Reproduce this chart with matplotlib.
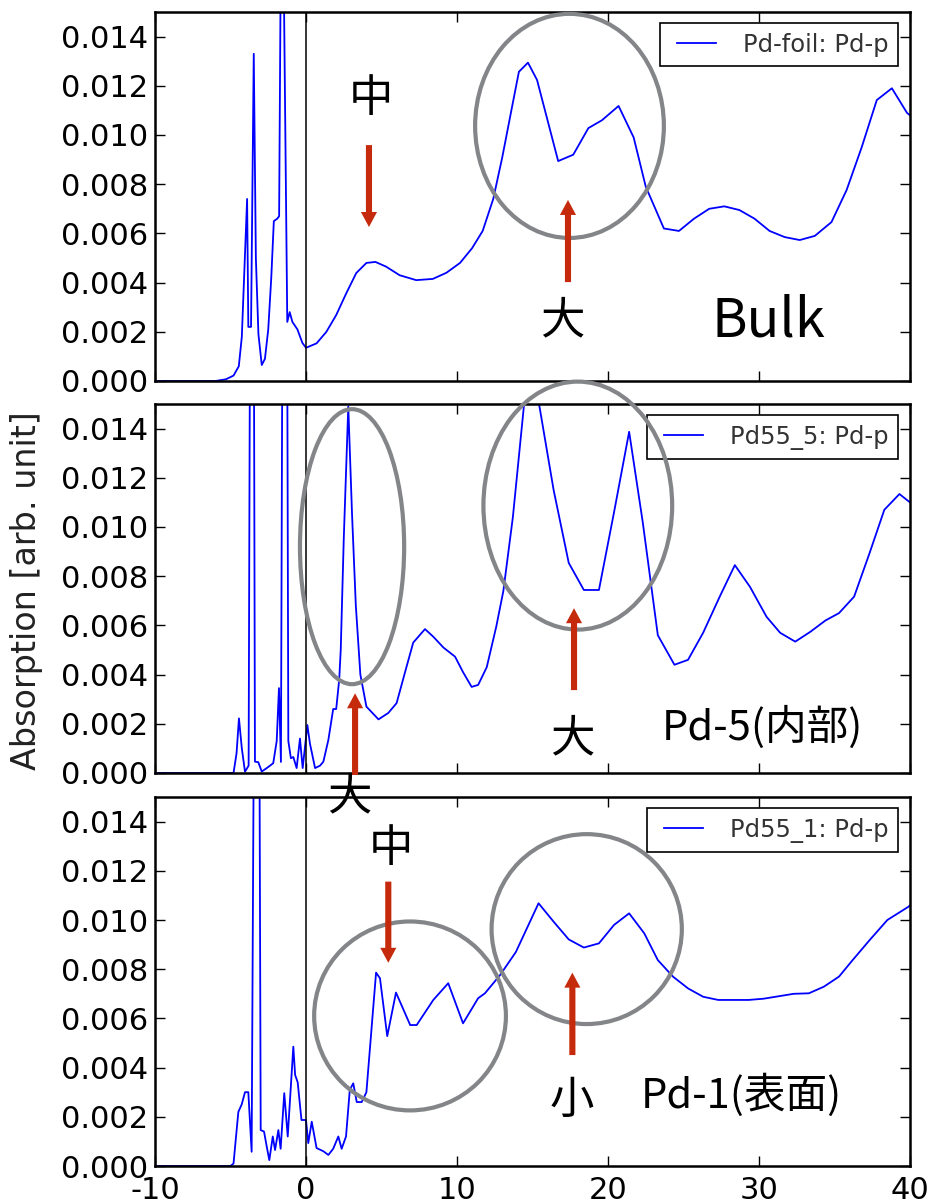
import matplotlib
matplotlib.use('Agg')
import matplotlib.pyplot as plt
from matplotlib.patches import Ellipse, FancyArrowPatch
from matplotlib.ticker import FormatStrFormatter

plt.rcParams['font.family'] = ['DejaVu Sans', 'Noto Sans CJK JP']
plt.rcParams['axes.unicode_minus'] = False

# Pd-p partial absorption vs energy (eV, relative to edge)
foil_e = [-10, -6.0, -5.3, -4.8, -4.45, -4.25, -4.05, -3.9, -3.82, -3.64, -3.46, -3.32,
          -3.15, -2.93, -2.72, -2.5, -2.3, -2.13, -1.9, -1.78, -1.62, -1.5, -1.24, -1.08,
          -0.9, -0.57, -0.24, 0.0, 0.7, 1.35, 2.0, 2.67, 3.33, 4.0, 4.6, 5.3, 6.2, 7.3,
          8.4, 9.3, 10.2, 11.0, 11.7, 12.4, 13.0, 13.6, 14.1, 14.7, 15.3, 16.7, 17.7,
          18.7, 19.6, 20.7, 21.7, 22.5, 23.7, 24.7, 25.7, 26.7, 27.7, 28.7, 29.7, 30.7,
          31.7, 32.7, 33.7, 34.8, 35.8, 36.8, 37.8, 38.8, 39.8, 40.0]
foil_mu = [0, 0, 0.00007, 0.00022, 0.0006, 0.0018, 0.0050, 0.0074, 0.0022, 0.0022, 0.0133,
           0.0050, 0.0019, 0.00065, 0.0009, 0.0021, 0.0042, 0.0065, 0.0066, 0.0067, 0.022,
           0.018, 0.0024, 0.0028, 0.0024, 0.0021, 0.00155, 0.00135, 0.00153, 0.0020,
           0.00268, 0.00357, 0.00439, 0.0048, 0.00484, 0.00465, 0.0043, 0.0041, 0.00415,
           0.0044, 0.0048, 0.0054, 0.0061, 0.0074, 0.0091, 0.0110, 0.01257, 0.01294,
           0.01224, 0.00894, 0.0092, 0.01028, 0.0106, 0.01118, 0.0099, 0.0079, 0.0062,
           0.0061, 0.0066, 0.0070, 0.0071, 0.00695, 0.0066, 0.0061, 0.00585, 0.00573,
           0.0059, 0.00646, 0.00776, 0.0095, 0.01142, 0.0119, 0.0109, 0.0108]

pd5_e = [-10, -4.8, -4.6, -4.44, -4.25, -4.04, -3.8, -3.65, -3.5, -3.38, -3.16, -2.93,
         -2.6, -2.38, -2.17, -1.94, -1.79, -1.66, -1.5, -1.3, -1.17, -1.0, -0.84, -0.62,
         -0.4, -0.22, 0.09, 0.26, 0.6, 0.93, 1.15, 1.48, 1.8, 2.0, 2.2, 2.3, 2.5, 2.8,
         3.05, 3.3, 3.6, 4.0, 4.8, 5.45, 6.0, 6.56, 7.1, 7.88, 8.43, 9.1, 9.87, 10.4,
         10.97, 11.4, 11.97, 12.6, 13.07, 13.7, 14.8, 15.5, 16.4, 17.4, 18.4, 19.4, 20.4,
         21.4, 22.3, 23.3, 24.4, 25.3, 26.3, 27.4, 28.4, 29.4, 30.5, 31.4, 32.4, 33.4,
         34.4, 35.3, 36.3, 37.3, 38.3, 39.3, 40.0]
pd5_mu = [0, 0, 0.0008, 0.00222, 0.0010, 0.00005, 0.0003, 0.030, 0.030, 0.00046, 0.00044,
          0.00006, 0.0002, 0.0003, 0.0004, 0.0013, 0.00345, 0.00045, 0.030, 0.030, 0.0013,
          0.0006, 0.00065, 0.0002, 0.0014, 0.0002, 0.00195, 0.0012, 0.0002, 0.0003,
          0.00046, 0.00134, 0.0026, 0.0026, 0.0038, 0.0050, 0.0095, 0.0149, 0.0105, 0.0068,
          0.0040, 0.0027, 0.00218, 0.00244, 0.00284, 0.0041, 0.0053, 0.00585, 0.00554,
          0.0051, 0.00473, 0.0041, 0.0035, 0.00358, 0.0043, 0.00595, 0.0074, 0.0104, 0.0172,
          0.01476, 0.0115, 0.00854, 0.00744, 0.00744, 0.0106, 0.01387, 0.0102, 0.0056,
          0.0044, 0.0046, 0.0057, 0.00717, 0.00845, 0.00757, 0.00635, 0.0057, 0.00534,
          0.00574, 0.0062, 0.0065, 0.00717, 0.0089, 0.0107, 0.01134, 0.0110]

pd1_e = [-10, -5.0, -4.8, -4.48, -4.26, -4.04, -3.82, -3.6, -3.35, -3.15, -3.0, -2.78,
         -2.6, -2.43, -2.2, -2.05, -1.83, -1.68, -1.44, -1.21, -0.84, -0.72, -0.55, -0.3,
         0.0, 0.15, 0.38, 0.7, 1.15, 1.48, 1.8, 2.14, 2.36, 2.65, 2.9, 3.13, 3.36, 3.69,
         4.0, 4.64, 4.9, 5.38, 5.96, 6.9, 7.33, 8.43, 9.42, 10.4, 11.4, 11.85, 12.85, 13.9,
         15.4, 16.4, 17.4, 18.4, 19.4, 20.4, 21.4, 22.4, 23.3, 24.3, 25.3, 26.3, 27.3,
         28.3, 29.3, 30.3, 31.3, 32.3, 33.3, 34.3, 35.3, 36.2, 37.35, 38.5, 39.9, 40.0]
pd1_mu = [0, 0, 0.0001, 0.0022, 0.0025, 0.0030, 0.0030, 0.00058, 0.030, 0.030, 0.00146,
          0.0014, 0.00079, 0.00024, 0.0012, 0.00065, 0.00146, 0.0007, 0.00296, 0.0012,
          0.00485, 0.0037, 0.0034, 0.00187, 0.00187, 0.00093, 0.0018, 0.00073, 0.0006,
          0.00045, 0.0007, 0.0012, 0.0007, 0.0012, 0.0031, 0.00336, 0.0026, 0.0026, 0.0030,
          0.00786, 0.00763, 0.00528, 0.00705, 0.00573, 0.00573, 0.00675, 0.00743, 0.0058,
          0.00682, 0.00702, 0.00776, 0.0087, 0.01068, 0.00993, 0.00921, 0.00888, 0.00905,
          0.0098, 0.01027, 0.00946, 0.00837, 0.0077, 0.00722, 0.00688, 0.00675, 0.00675,
          0.00675, 0.0068, 0.0069, 0.0070, 0.00702, 0.00729, 0.0077, 0.00837, 0.0092,
          0.0100, 0.01054, 0.0106]

series = [(foil_e, foil_mu, 'Pd-foil: Pd-p'),
          (pd5_e, pd5_mu, 'Pd55_5: Pd-p'),
          (pd1_e, pd1_mu, 'Pd55_1: Pd-p')]
yticks = [0.000, 0.002, 0.004, 0.006, 0.008, 0.010, 0.012, 0.014]
xticks = [-10, 0, 10, 20, 30, 40]

W, H = 934, 1203
fig = plt.figure(figsize=(W / 100, H / 100), dpi=100)

axes = []
for top in (12, 404, 797):
    ax = fig.add_axes([155 / W, 1 - (top + 369) / H, 755 / W, 369 / H])
    axes.append(ax)

for ax, (e, mu, lab) in zip(axes, series):
    ax.plot(e, mu, color='b', lw=1.3, label=lab)
    ax.axvline(0, color='k', lw=1.1)
    ax.set_xlim(-10, 40)
    ax.set_ylim(0, 0.015)
    ax.set_yticks(yticks)
    ax.set_xticks(xticks)
    ax.yaxis.set_major_formatter(FormatStrFormatter('%.3f'))
    ax.tick_params(direction='in', top=True, right=True, length=7, width=1,
                   labelsize=22, pad=5)
    ax.tick_params(axis='x', pad=7)
    for s in ax.spines.values():
        s.set_linewidth(1.8)
    leg = ax.legend(loc='upper right', bbox_to_anchor=(1 - 12 / 755, 1 - 11 / 369),
                    borderaxespad=0, fontsize=17.5, numpoints=2, handlelength=2.2,
                    handletextpad=0.8, fancybox=False, framealpha=1, edgecolor='k')
    leg.get_frame().set_linewidth(1.2)
    for t in leg.get_texts():
        t.set_color('#333333')

axes[0].tick_params(labelbottom=False)
axes[1].tick_params(labelbottom=False)

fig.text(27 / W, 1 - 591 / H, 'Absorption [arb. unit]', rotation=90, fontsize=24,
         va='center', ha='center', color='#222222')

# markers for the features discussed
RED = '#c62a0c'
GREY = '#838588'
JP = ['Noto Sans CJK JP', 'DejaVu Sans']


def ring(ax, xy, w, h):
    fig.add_artist(Ellipse(xy, w, h, transform=ax.transData, fill=False,
                           edgecolor=GREY, lw=3.0))


def arrow(ax, x, y0, y1):
    fig.add_artist(FancyArrowPatch((x, y0), (x, y1), transform=ax.transData,
                                   arrowstyle='simple,head_length=0.54,head_width=0.58,tail_width=0.22',
                                   mutation_scale=20, color=RED, lw=0,
                                   shrinkA=0, shrinkB=0))


def note(ax, x, y, s, size):
    fig.text(x, y, s, transform=ax.transData, fontsize=size, family=JP,
             ha='center', va='center', color='k')


a1, a2, a3 = axes
ring(a1, (17.45, 0.01037), 12.5, 0.00911)
arrow(a1, 4.17, 0.00959, 0.00626)
arrow(a1, 17.35, 0.00402, 0.00736)
note(a1, 4.3, 0.0115, '中', 32)
note(a1, 17.0, 0.00248, '大', 32)
note(a1, 30.6, 0.00244, 'Bulk', 39)

ring(a2, (3.05, 0.0092), 6.9, 0.01118)
ring(a2, (18.0, 0.01087), 12.5, 0.01008)
arrow(a2, 3.25, -0.00008, 0.00324)
arrow(a2, 17.75, 0.00337, 0.0067)
note(a2, 2.9, -0.00093, '大', 32)
note(a2, 17.66, 0.00142, '大', 32)
note(a2, 30.2, 0.00187, 'Pd-5(内部)', 30)

ring(a3, (6.89, 0.0061), 12.7, 0.00768)
ring(a3, (18.59, 0.00963), 12.6, 0.00772)
arrow(a3, 5.45, 0.01156, 0.00826)
arrow(a3, 17.64, 0.00451, 0.00786)
note(a3, 5.63, 0.01293, '中', 32)
note(a3, 17.6, 0.00268, '小', 32)
note(a3, 28.85, 0.00289, 'Pd-1(表面)', 30)

fig.savefig('out.png', dpi=100, facecolor='white')
